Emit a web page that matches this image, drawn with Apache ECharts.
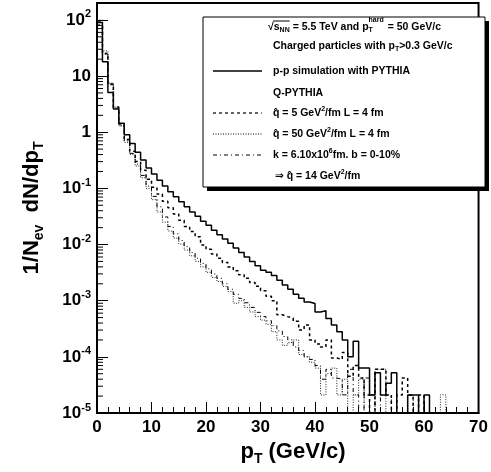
<!DOCTYPE html>
<html>
<head>
<meta charset="utf-8">
<script src="https://cdn.jsdelivr.net/npm/echarts@6/dist/echarts.min.js"></script>
<style>
  html, body { margin: 0; padding: 0; background: #fff; }
  #main { width: 491px; height: 472px; }
</style>
</head>
<body>
<div id="main"></div>
<script>
// pT bins: 1 GeV/c wide, low edges 0..69
var binWidth = 1;
var nBins = 70;

// p-p simulation with PYTHIA (solid)
var ppPythia = [90, 18, 5.1, 2.6, 1.45, 0.9, 0.63, 0.44, 0.32, 0.23,
    0.18, 0.14, 0.11, 0.087, 0.071, 0.058, 0.047, 0.038, 0.032, 0.026,
    0.022, 0.018, 0.015, 0.0126, 0.0105, 0.0087, 0.0072, 0.006, 0.005, 0.0042,
    0.0035, 0.0032, 0.0028, 0.0023, 0.0019, 0.0016, 0.0013, 0.0011, 0.00095, 0.00089,
    0.00063, 0.00066, 0.00048, 0.00037, 0.00028, 0.0002, 0.0001, 0.00019, 6.3e-5, 6.3e-5,
    2.1e-5, 5.2e-5, 2.1e-5, 3.4e-5, 5.2e-5, 0, 0, 2.1e-5, 2.1e-5, 0,
    2.1e-5, 0, 0, 0, 0, 0, 0, 0, 0, 0];

// Q-PYTHIA qhat = 5 GeV^2/fm, L = 4 fm (dashed)
var qhat5 = [80, 25, 7.2, 2.8, 1.4, 0.74, 0.46, 0.3, 0.21, 0.145,
    0.105, 0.079, 0.059, 0.045, 0.035, 0.027, 0.021, 0.017, 0.0138, 0.0098,
    0.0082, 0.0068, 0.0057, 0.0048, 0.004, 0.0034, 0.0029, 0.0025, 0.0021, 0.0018,
    0.0015, 0.0012, 0.001, 0.00056, 0.00052, 0.00049, 0.00043, 0.0003, 0.00037, 0.0002,
    0.00017, 0.00015, 0.0002, 0.000095, 0.00009, 0.00012, 0.000045, 0.00007, 0.000042, 0.000021,
    0, 0.00006, 0.00006, 0.000021, 0, 0.000021, 0.000042, 0.000021, 0, 0.000021,
    0, 0, 0, 0, 0, 0, 0, 0, 0, 0];

// Q-PYTHIA qhat = 50 GeV^2/fm, L = 4 fm (dotted)
var qhat50 = [100, 28, 7.5, 2.8, 1.3, 0.66, 0.4, 0.25, 0.155, 0.1,
    0.063, 0.038, 0.025, 0.0174, 0.013, 0.0102, 0.008, 0.0063, 0.005, 0.004,
    0.0032, 0.0026, 0.0022, 0.0018, 0.00145, 0.0009, 0.001, 0.00076, 0.00063, 0.00052,
    0.00045, 0.00038, 0.00028, 0.0002, 0.00016, 0.00018, 0.0002, 0.00011, 0.0001, 0.00008,
    0.000063, 0.000021, 0.00005, 0.000063, 0.000021, 0.00004, 0, 0.000021, 0.00004, 0,
    0, 0.00006, 0.00006, 0, 0, 0, 0, 0.000021, 0, 0,
    0, 0, 0, 0.000021, 0, 0, 0, 0, 0, 0];

// Q-PYTHIA k = 6.10x10^6 fm, b = 0-10% (dash-dot)
var kMedium = [95, 26, 7.0, 2.7, 1.3, 0.7, 0.42, 0.27, 0.17, 0.11,
    0.072, 0.047, 0.031, 0.021, 0.0155, 0.0118, 0.0092, 0.0072, 0.0057, 0.0046,
    0.0037, 0.003, 0.0025, 0.002, 0.0016, 0.0013, 0.0011, 0.00092, 0.00076, 0.00062,
    0.00052, 0.00044, 0.00036, 0.00029, 0.00023, 0.0002, 0.00015, 0.00013, 0.0001, 0.00009,
    0.00007, 0.00004, 0.00006, 0.000042, 0.00004, 0.000021, 0.00006, 0.000021, 0, 0.000042,
    0.000021, 0, 0.000021, 0.000021, 0, 0, 0, 0, 0, 0,
    0, 0, 0, 0, 0, 0, 0, 0, 0, 0];

var xTicks = [0, 10, 20, 30, 40, 50, 60, 70];

var FONT = 'Liberation Sans, Arial, Helvetica, DejaVu Sans, sans-serif';
var EMPTY = 1e-7; // empty bins drop below the axis (log scale)

// histogram -> step points (low edge, value) + closing point at the upper edge
function histPoints(vals) {
    var pts = [];
    for (var i = 0; i < vals.length; i++) {
        pts.push([i * binWidth, vals[i] > 0 ? vals[i] : EMPTY]);
    }
    var last = vals[vals.length - 1];
    pts.push([vals.length * binWidth, last > 0 ? last : EMPTY]);
    return pts;
}

// minor ticks 2..9 of every decade on the log axis
var minorY = [];
for (var e = -5; e <= 1; e++) {
    for (var m = 2; m <= 9; m++) {
        minorY.push([0, m * Math.pow(10, e)]);
    }
}

var measCtx = document.createElement('canvas').getContext('2d');
function textW(str, size) {
    measCtx.font = 'bold ' + size + 'px ' + FONT;
    return measCtx.measureText(str).width;
}

var myChart = echarts.init(document.getElementById('main'));

var LFS = 10.5;   // legend font size
var SFS = 7;      // legend sub/sup font size
var legRich = {
    sub: { fontSize: SFS, fontWeight: 'bold', fontFamily: FONT, verticalAlign: 'bottom', lineHeight: 8 },
    sup: { fontSize: SFS, fontWeight: 'bold', fontFamily: FONT, verticalAlign: 'top', lineHeight: 8 }
};
function legText(str, x, y, extraRich) {
    var rich = Object.assign({}, legRich, extraRich || {});
    return {
        type: 'text', x: x, y: y, z: 102,
        style: {
            text: str, fill: '#000', fontSize: LFS, fontWeight: 'bold', fontFamily: FONT,
            lineHeight: 14, verticalAlign: 'middle', align: 'left', rich: rich
        }
    };
}
function legLine(y, dash, w) {
    return {
        type: 'line', z: 102,
        shape: { x1: 213, y1: y, x2: 262, y2: y },
        style: { stroke: '#000', lineWidth: w, lineDash: dash }
    };
}

// first legend row: sqrt(s_NN) ... p_T^hard
var tx = 273;
var r1 = 27;
var wHard = textW('hard', SFS);
var wPre = textW('\u221As', LFS) + textW('NN', SFS) + textW(' = 5.5 TeV and p', LFS);
var sqrtW = textW('\u221A', LFS);
var snnEnd = tx - 5 + textW('\u221As', LFS) + textW('NN', SFS);

var graphics = [
    { type: 'rect', z: 100, shape: { x: 207, y: 21, width: 282, height: 170 }, style: { fill: '#000' } },
    { type: 'rect', z: 101, shape: { x: 203, y: 17, width: 282, height: 170 }, style: { fill: '#fff', stroke: '#000', lineWidth: 1 } },
    legText('\u221As{sub|NN} = 5.5 TeV and p{gap|T} = 50 GeV/c', tx - 5, r1, {
        gap: { fontSize: SFS, fontWeight: 'bold', fontFamily: FONT, verticalAlign: 'bottom', lineHeight: 8, width: wHard + 1, align: 'left' }
    }),
    { type: 'line', z: 102, shape: { x1: tx - 5 + sqrtW - 0.5, y1: r1 - 6, x2: snnEnd, y2: r1 - 6 }, style: { stroke: '#000', lineWidth: 1 } },
    { type: 'text', z: 102, x: tx - 5 + wPre, y: r1 - 7,
      style: { text: 'hard', fill: '#000', fontSize: SFS, fontWeight: 'bold', fontFamily: FONT, verticalAlign: 'middle', align: 'left' } },
    legText('Charged particles with p{sub|T}>0.3 GeV/c', tx, 46),
    legLine(71, null, 1.5),
    legText('p-p simulation with PYTHIA', tx, 71),
    legText('Q-PYTHIA', tx, 93),
    legLine(113, [3, 3], 1.2),
    legText('q\u0302 = 5 GeV{sup|2}/fm L = 4 fm', tx, 113),
    legLine(134, [1, 1.5], 1),
    legText('q\u0302 = 50 GeV{sup|2}/fm L = 4 fm', tx, 134),
    legLine(155, [4, 3, 1, 3], 1),
    legText('k = 6.10x10{sup|6}fm. b = 0-10%', tx, 155),
    legText('\u21D2 q\u0302 = 14 GeV{sup|2}/fm', tx + 2, 176),
    // axis titles
    {
        type: 'text', x: 32, y: 208, rotation: Math.PI / 2, z: 102,
        style: {
            text: '1/N{sub|ev}  dN/dp{sub|T}', fill: '#000', fontSize: 22, fontWeight: 'bold', fontFamily: FONT,
            lineHeight: 28, align: 'center', verticalAlign: 'middle',
            rich: { sub: { fontSize: 14, fontWeight: 'bold', fontFamily: FONT, verticalAlign: 'bottom', lineHeight: 16 } }
        }
    },
    {
        type: 'text', x: 293, y: 452, z: 102,
        style: {
            text: 'p{sub|T} (GeV/c)', fill: '#000', fontSize: 22, fontWeight: 'bold', fontFamily: FONT,
            lineHeight: 28, align: 'center', verticalAlign: 'middle',
            rich: { sub: { fontSize: 14, fontWeight: 'bold', fontFamily: FONT, verticalAlign: 'bottom', lineHeight: 16 } }
        }
    }
];

var option = {
    animation: false,
    backgroundColor: '#fff',
    grid: {
        left: 97, right: 2, top: 3, bottom: 59,
        show: true, borderColor: '#000', borderWidth: 2
    },
    xAxis: {
        type: 'value', min: 0, max: 70, interval: 10,
        axisLine: { show: true, lineStyle: { color: '#000', width: 2 } },
        axisTick: { show: true, inside: true, length: 11, lineStyle: { color: '#000', width: 1 } },
        minorTick: { show: true, splitNumber: 5, length: 6, lineStyle: { color: '#000', width: 1 } },
        splitLine: { show: false },
        axisLabel: {
            color: '#000', fontSize: 17, fontWeight: 'bold', fontFamily: FONT, margin: 6,
            showMaxLabel: true, showMinLabel: true,
            formatter: function (v) { return xTicks.indexOf(v) >= 0 ? String(v) : ''; }
        }
    },
    yAxis: {
        type: 'log', logBase: 10, min: 1e-5, max: 200,
        axisLine: { show: true, lineStyle: { color: '#000', width: 2 } },
        axisTick: { show: true, inside: true, length: 11, lineStyle: { color: '#000', width: 1 } },
        splitLine: { show: false },
        axisLabel: {
            color: '#000', fontSize: 17, fontWeight: 'bold', fontFamily: FONT, margin: 6, lineHeight: 22,
            formatter: function (v) {
                var lg = Math.log10(v);
                var ex = Math.round(lg);
                if (Math.abs(lg - ex) > 0.01) return '';
                if (ex === 0) return '1';
                if (ex === 1) return '10';
                return '10{sup|' + ex + '}';
            },
            rich: {
                sup: { fontSize: 11, fontWeight: 'bold', fontFamily: FONT, color: '#000', verticalAlign: 'top', lineHeight: 12 }
            }
        }
    },
    graphic: graphics,
    series: [
        {
            name: 'p-p simulation with PYTHIA', type: 'line', step: 'end', showSymbol: false,
            data: histPoints(ppPythia), lineStyle: { color: '#000', width: 1.5 }, z: 5
        },
        {
            name: 'qhat5', type: 'line', step: 'end', showSymbol: false,
            data: histPoints(qhat5), lineStyle: { color: '#000', width: 1.5, type: [3, 3] }, z: 4
        },
        {
            name: 'qhat50', type: 'line', step: 'end', showSymbol: false,
            data: histPoints(qhat50), lineStyle: { color: '#222', width: 1, type: [1, 1.5] }, z: 3
        },
        {
            name: 'k', type: 'line', step: 'end', showSymbol: false,
            data: histPoints(kMedium), lineStyle: { color: '#000', width: 1, type: [4, 3, 1, 3] }, z: 3
        },
        {
            // minor ticks of the log axis
            type: 'custom', silent: true, data: minorY, z: 6,
            encode: { x: 0, y: 1 },
            renderItem: function (params, api) {
                var p = api.coord([api.value(0), api.value(1)]);
                return {
                    type: 'line',
                    shape: { x1: p[0], y1: p[1], x2: p[0] + 6, y2: p[1] },
                    style: { stroke: '#000', lineWidth: 1 }
                };
            }
        }
    ]
};
myChart.setOption(option);
</script>
</body>
</html>
